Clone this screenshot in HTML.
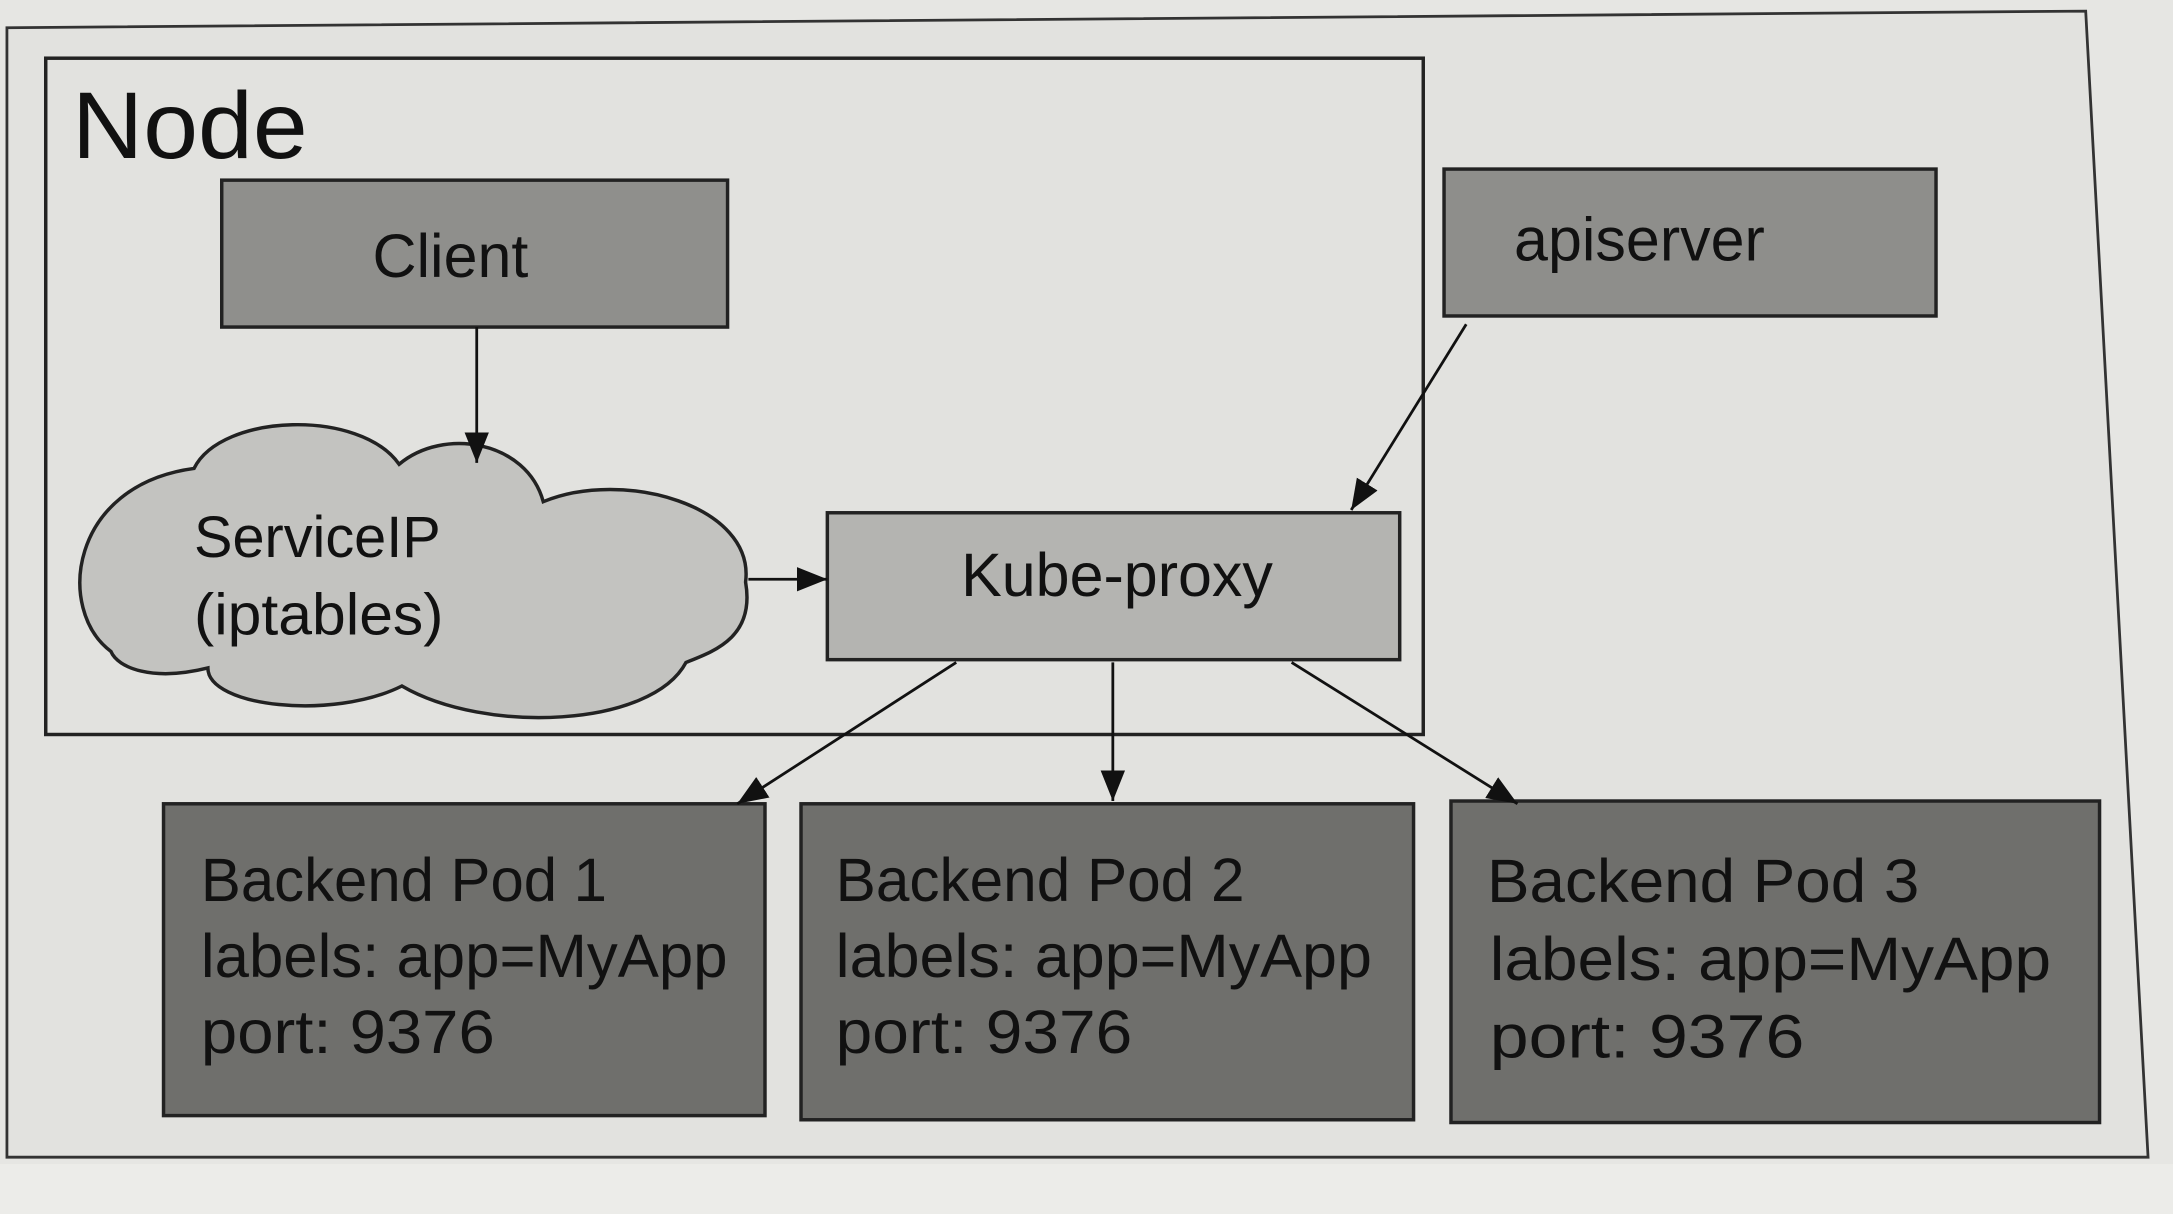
<!DOCTYPE html>
<html><head><meta charset="utf-8"><style>html,body{margin:0;padding:0;background:#e4e4e1;}svg{display:block}</style></head>
<body>
<svg width="2173" height="1214" viewBox="0 0 1568 876" preserveAspectRatio="none" xmlns="http://www.w3.org/2000/svg" font-family="Liberation Sans, sans-serif">
<defs>
<marker id="b" viewBox="0 0 10 10" refX="10" refY="5" markerWidth="22" markerHeight="22" orient="auto" markerUnits="userSpaceOnUse"><path d="M0,1 L10,5 L0,9 Z" fill="#111"/></marker>
</defs>
<rect width="1568" height="876" fill="#e6e6e3"/>
<rect x="0" y="840" width="1568" height="36" fill="#ecece9"/>
<polygon points="5,20 1505,8 1550,835 5,835" fill="#e2e2df" stroke="#333" stroke-width="2"/>
<rect x="33" y="42" width="994" height="488" fill="none" stroke="#222" stroke-width="2.5"/>
<text x="52" y="114" font-size="68" fill="#111" textLength="170" lengthAdjust="spacingAndGlyphs">Node</text>
<rect x="160" y="130" width="365" height="106" fill="#8f8f8c" stroke="#222" stroke-width="2.5"/>
<text x="325" y="200" font-size="44" text-anchor="middle" fill="#111">Client</text>
<rect x="1042" y="122" width="355" height="106" fill="#8e8e8b" stroke="#222" stroke-width="2.5"/>
<text x="1183" y="188" font-size="44" text-anchor="middle" fill="#111">apiserver</text>
<path d="M80,470 C40,440 50,350 140,338 C160,298 260,295 288,335 C320,308 380,318 392,362 C450,338 545,365 538,420 C545,460 515,470 495,478 C470,525 350,530 290,495 C240,520 150,510 150,482 C110,492 85,482 80,470 Z" fill="#c3c3c0" stroke="#222" stroke-width="2.5"/>
<text x="140" y="402" font-size="42" fill="#111" textLength="178" lengthAdjust="spacingAndGlyphs">ServiceIP</text>
<text x="140" y="458" font-size="42" fill="#111" textLength="180" lengthAdjust="spacingAndGlyphs">(iptables)</text>
<rect x="597" y="370" width="413" height="106" fill="#b4b4b1" stroke="#222" stroke-width="2.5"/>
<text x="806" y="430" font-size="44" text-anchor="middle" fill="#111">Kube-proxy</text>
<g fill="#6f6f6c" stroke="#222" stroke-width="2.5">
<rect x="118" y="580" width="434" height="225"/>
<rect x="578" y="580" width="442" height="228"/>
<rect x="1047" y="578" width="468" height="232"/>
</g>
<g font-size="44" fill="#111" lengthAdjust="spacingAndGlyphs">
<text x="145" y="650" textLength="293" lengthAdjust="spacingAndGlyphs">Backend Pod 1</text><text x="145" y="705" textLength="380" lengthAdjust="spacingAndGlyphs">labels: app=MyApp</text><text x="145" y="760" textLength="212" lengthAdjust="spacingAndGlyphs">port: 9376</text>
<text x="603" y="650" textLength="295" lengthAdjust="spacingAndGlyphs">Backend Pod 2</text><text x="603" y="705" textLength="387" lengthAdjust="spacingAndGlyphs">labels: app=MyApp</text><text x="603" y="760" textLength="214" lengthAdjust="spacingAndGlyphs">port: 9376</text>
<text x="1073" y="651" textLength="312" lengthAdjust="spacingAndGlyphs">Backend Pod 3</text><text x="1075" y="707" textLength="405" lengthAdjust="spacingAndGlyphs">labels: app=MyApp</text><text x="1075" y="763" textLength="227" lengthAdjust="spacingAndGlyphs">port: 9376</text>
</g>
<g stroke="#111" stroke-width="2" fill="none" marker-end="url(#b)">
<line x1="344" y1="236" x2="344" y2="334"/>
<line x1="540" y1="418" x2="597" y2="418"/>
<line x1="1058" y1="234" x2="975" y2="368"/>
<line x1="690" y1="478" x2="532" y2="580"/>
<line x1="803" y1="478" x2="803" y2="578"/>
<line x1="932" y1="478" x2="1095" y2="580"/>
</g>
</svg>
</body></html>
